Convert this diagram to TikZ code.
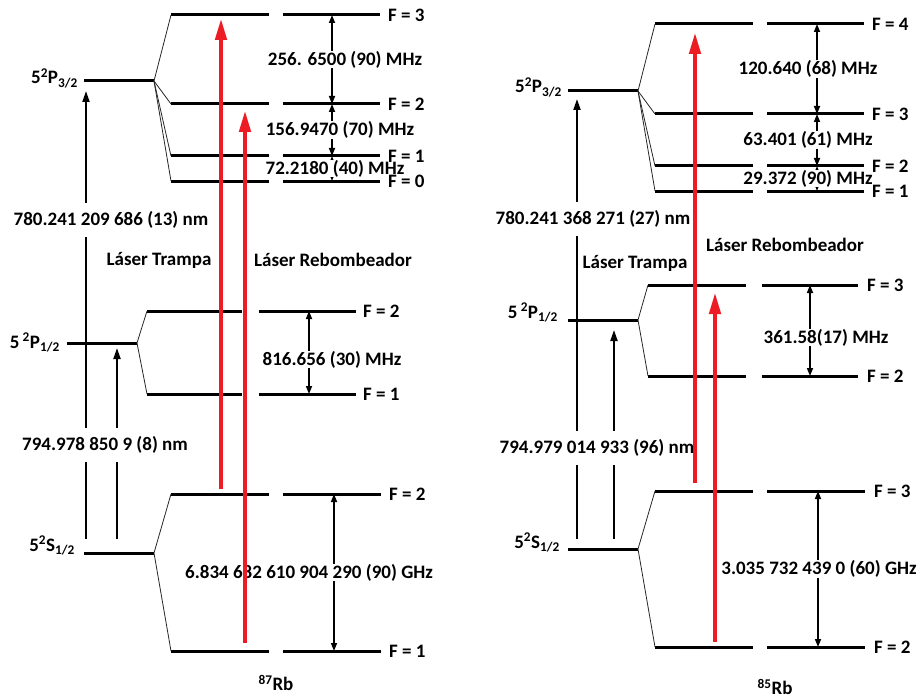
\documentclass[tikz,border=0pt]{standalone}
\usepackage{fontspec}
\setmainfont{Carlito}
\usetikzlibrary{positioning,arrows.meta,calc,backgrounds}
\definecolor{laserred}{HTML}{ED1C24}
\newcommand{\diagfont}{\fontsize{19}{22}\selectfont\bfseries}
\tikzset{
  lvl/.style={line width=3pt},
  fan/.style={line width=0.8pt, draw=black!85},
  flbl/.style={font=\diagfont, anchor=west, inner sep=0pt},
  jlbl/.style={font=\diagfont, anchor=base east, inner sep=0pt},
  txt/.style={font=\diagfont, inner sep=0pt},
  gap/.style={{Triangle[length=8pt,width=6pt]}-{Triangle[length=8pt,width=6pt]}, line width=1.6pt},
  val/.style={font=\diagfont, fill=white, inner xsep=1pt, inner ysep=0.5pt},
  wl/.style={font=\diagfont, fill=white, inner xsep=1pt, inner ysep=9pt},
  pump/.style={-{Triangle[length=11pt,width=7pt]}, line width=2pt},
  laser/.style={-{Triangle[length=22pt,width=11pt]}, line width=4.5pt, draw=laserred},
}

\begin{document}
\begin{tikzpicture}[x=1pt,y=-1pt]
  \useasboundingbox (0,0) rectangle (921,698);

  % 87Rb: fine structure
  \draw[lvl] (84,81) coordinate (aP3w) -- (154,81) coordinate (aP3);
  \draw[lvl] (67,343) coordinate (aP1w) -- (137,343) coordinate (aP1);
  \draw[lvl] (84,553) coordinate (aSw) -- (154,553) coordinate (aS);
  \node[jlbl] (aP3lbl) at ($(aP3w)+(-6,3)$) {5\textsuperscript{2}P\textsubscript{3/2}};
  \node[jlbl] (aP1lbl) at ($(aP1w)+(-7,5)$) {5\,\textsuperscript{2}P\textsubscript{1/2}};
  \node[jlbl] (aSlbl) at ($(aSw)+(-9,-2)$) {5\textsuperscript{2}S\textsubscript{1/2}};

  % 87Rb: hyperfine structure
  \foreach \nm/\y/\F in {a3/15/3, a2/104/2, a1/156/1, a0/181/0}{
    \draw[lvl] (171,\y) coordinate (\nm) -- (269,\y) (283,\y) -- (380,\y) coordinate (\nm r);
    \draw[fan] (aP3) -- (\nm);
    \node[flbl] at ([xshift=8pt]\nm r) {F = \F};
  }
  \foreach \nm/\y/\F in {b2/311/2, b1/394/1}{
    \draw[lvl] (147,\y) coordinate (\nm) -- (242,\y) (259,\y) -- (356,\y) coordinate (\nm r);
    \draw[fan] (aP1) -- (\nm);
    \node[flbl] at ([xshift=7pt]\nm r) {F = \F};
  }
  \foreach \nm/\y/\F in {c2/494/2, c1/651/1}{
    \draw[lvl] (171,\y) coordinate (\nm) -- (269,\y) (283,\y) -- (381,\y) coordinate (\nm r);
    \draw[fan] (aS) -- (\nm);
    \node[flbl] at ([xshift=8pt]\nm r) {F = \F};
  }

  \coordinate (aM3) at (332,0);
  \coordinate (aM1) at (309,0);
  \coordinate (aMS) at (334,0);
  \begin{scope}[on background layer]
    \draw[gap] (aM3 |- a3) -- node[val, xshift=13pt] {256. 6500 (90) MHz} (aM3 |- a2);
    \draw[gap] (aM3 |- a2) -- node[val, xshift=8pt] {156.9470 (70) MHz} (aM3 |- a1);
    \draw[gap] (aM3 |- a1) -- node[val, xshift=3pt] {72.2180 (40) MHz} (aM3 |- a0);
    \draw[gap] (aM1 |- b2) -- node[val, xshift=23pt, yshift=-7pt] {816.656 (30) MHz} (aM1 |- b1);
    \draw[gap] (aMS |- c2) -- node[val, xshift=-25pt] {6.834 682 610 904 290 (90) GHz} (aMS |- c1);
  \end{scope}

  % 87Rb: D2 and D1 lines
  \coordinate (aD2s) at (86,539);
  \coordinate (aD2t) at (86,91);
  \coordinate (aD1s) at (117,539);
  \coordinate (aD1t) at (117,348);
  \draw[pump] (aD2s) -- (aD2t);
  \draw[pump] (aD1s) -- (aD1t);
  \node[wl] (aD2lbl) at (111,220) {780.241 209 686 (13) nm};
  \node[wl] (aD1lbl) at (105,445) {794.978 850 9 (8) nm};
  \node[txt] (aTrap) at (159,260) {Láser Trampa};
  \node[txt] (aRep) at (333,260) {Láser Rebombeador};
  \node[txt] (aIso) at (276,683) {\textsuperscript{87}Rb};

  % 85Rb: fine structure
  \draw[lvl] (568,91) coordinate (dP3w) -- (638,91) coordinate (dP3);
  \draw[lvl] (568,320) coordinate (dP1w) -- (638,320) coordinate (dP1);
  \draw[lvl] (568,549) coordinate (dSw) -- (638,549) coordinate (dS);
  \node[jlbl] (dP3lbl) at ($(dP3w)+(-6,2)$) {5\textsuperscript{2}P\textsubscript{3/2}};
  \node[jlbl] (dP1lbl) at ($(dP1w)+(-10,-2)$) {5\,\textsuperscript{2}P\textsubscript{1/2}};
  \node[jlbl] (dSlbl) at ($(dSw)+(-8,-1)$) {5\textsuperscript{2}S\textsubscript{1/2}};

  % 85Rb: hyperfine structure
  \foreach \nm/\y/\F in {e4/24/4, e3/114/3, e2/166/2, e1/191/1}{
    \draw[lvl] (655,\y) coordinate (\nm) -- (753,\y) (767,\y) -- (864,\y) coordinate (\nm r);
    \draw[fan] (dP3) -- (\nm);
    \node[flbl] at ([xshift=8pt]\nm r) {F = \F};
  }
  \foreach \nm/\y/\F in {f3/285/3, f2/376/2}{
    \draw[lvl] (648,\y) coordinate (\nm) -- (746,\y) (762,\y) -- (858,\y) coordinate (\nm r);
    \draw[fan] (dP1) -- (\nm);
    \node[flbl] at ([xshift=9pt]\nm r) {F = \F};
  }
  \foreach \nm/\y/\F in {g3/491/3, g2/647/2}{
    \draw[lvl] (655,\y) coordinate (\nm) -- (753,\y) (767,\y) -- (865,\y) coordinate (\nm r);
    \draw[fan] (dS) -- (\nm);
    \node[flbl] at ([xshift=9pt]\nm r) {F = \F};
  }

  \coordinate (dM3) at (817,0);
  \coordinate (dM1) at (810,0);
  \coordinate (dMS) at (818,0);
  \begin{scope}[on background layer]
    \draw[gap] (dM3 |- e4) -- node[val, xshift=-9pt] {120.640 (68) MHz} (dM3 |- e3);
    \draw[gap] (dM3 |- e3) -- node[val, xshift=-9pt] {63.401 (61) MHz} (dM3 |- e2);
    \draw[gap] (dM3 |- e2) -- node[val, xshift=-9pt] {29.372 (90) MHz} (dM3 |- e1);
    \draw[gap] (dM1 |- f3) -- node[val, xshift=16pt, yshift=-7pt] {361.58(17) MHz} (dM1 |- f2);
    \draw[gap] (dMS |- g3) -- node[val, xshift=1pt] {3.035 732 439 0 (60) GHz} (dMS |- g2);
  \end{scope}

  % 85Rb: D2 and D1 lines
  \coordinate (dD2s) at (577,539);
  \coordinate (dD2t) at (577,99);
  \coordinate (dD1s) at (614,539);
  \coordinate (dD1t) at (614,330);
  \draw[pump] (dD2s) -- (dD2t);
  \draw[pump] (dD1s) -- (dD1t);
  \node[wl] (dD2lbl) at (593,219) {780.241 368 271 (27) nm};
  \node[wl] (dD1lbl) at (597,448) {794.979 014 933 (96) nm};
  \node[txt] (dTrap) at (635,263) {Láser Trampa};
  \node[txt] (dRep) at (785,245) {Láser Rebombeador};
  \node[txt] (dIso) at (775,687) {\textsuperscript{85}Rb};

  % lasers
  \coordinate (aTs) at (221,489);
  \coordinate (aTt) at (221,18);
  \coordinate (aRs) at (245,643);
  \coordinate (aRt) at (245,110);
  \coordinate (dTs) at (695,483);
  \coordinate (dTt) at (695,32);
  \coordinate (dRs) at (715,642);
  \coordinate (dRt) at (715,292);
  \draw[laser] (aTs) -- (aTt);
  \draw[laser] (aRs) -- (aRt);
  \draw[laser] (dTs) -- (dTt);
  \draw[laser] (dRs) -- (dRt);
\end{tikzpicture}
\end{document}
